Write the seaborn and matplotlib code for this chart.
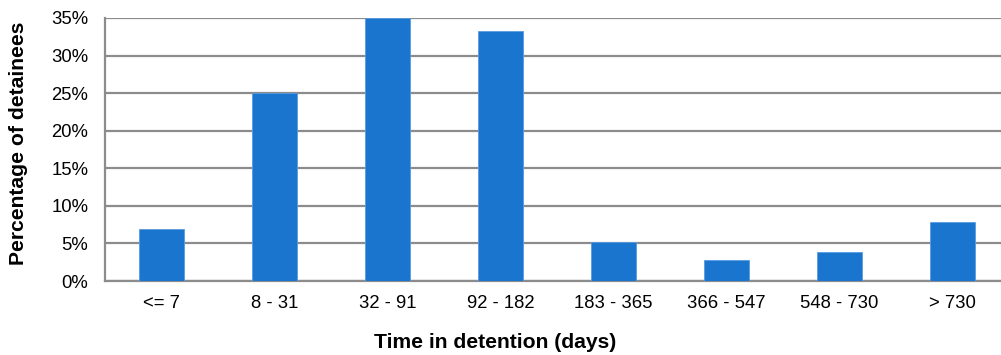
import matplotlib
matplotlib.use("Agg")
import matplotlib.pyplot as plt
import seaborn as sns
import pandas as pd

categories = ["<= 7", "8 - 31", "32 - 91", "92 - 182", "183 - 365", "366 - 547", "548 - 730", "> 730"]
percentages = [6.9, 25.0, 35.0, 33.3, 5.2, 2.8, 3.9, 7.9]
y_ticks = [0, 5, 10, 15, 20, 25, 30, 35]
y_tick_labels = [f"{t}%" for t in y_ticks]

sns.set_theme(style="white")
plt.rcParams['font.family'] = ['Liberation Sans', 'DejaVu Sans']

df = pd.DataFrame({"cat": categories, "pct": percentages})

fig = plt.figure(figsize=(10.01, 3.55), dpi=100)
ax = fig.add_axes([105/1001, 1-281/355, 904/1001, 263/355])

sns.barplot(data=df, x="cat", y="pct", color="#1a75cf", saturation=1, width=0.4,
            edgecolor="#5a9be0", linewidth=0.6, ax=ax, zorder=3)

ax.set_ylim(0, 35)
ax.set_xlim(-0.5, len(categories) - 0.5)
ax.set_yticks(y_ticks)
ax.set_yticklabels(y_tick_labels)
ax.yaxis.grid(True, color="#8c8c8c", linewidth=1.6, zorder=0)
ax.set_axisbelow(True)
for s in ["top", "right"]:
    ax.spines[s].set_visible(False)
for s in ["left", "bottom"]:
    ax.spines[s].set_color("#8c8c8c")
    ax.spines[s].set_linewidth(1.6)
ax.tick_params(axis="both", length=0, labelsize=13.3, colors="#000000")
ax.tick_params(axis="y", pad=12)
ax.tick_params(axis="x", pad=10)
ax.set_xlabel("")
ax.set_ylabel("")

fig.text(495/1001, 1-343/355, "Time in detention (days)", ha="center", va="center",
         fontsize=15.2, fontweight="bold", color="black")
fig.text(19/1001, 1-143/355, "Percentage of detainees", ha="center", va="center",
         rotation=90, fontsize=15.2, fontweight="bold", color="black")

fig.savefig("out.png", dpi=100)
